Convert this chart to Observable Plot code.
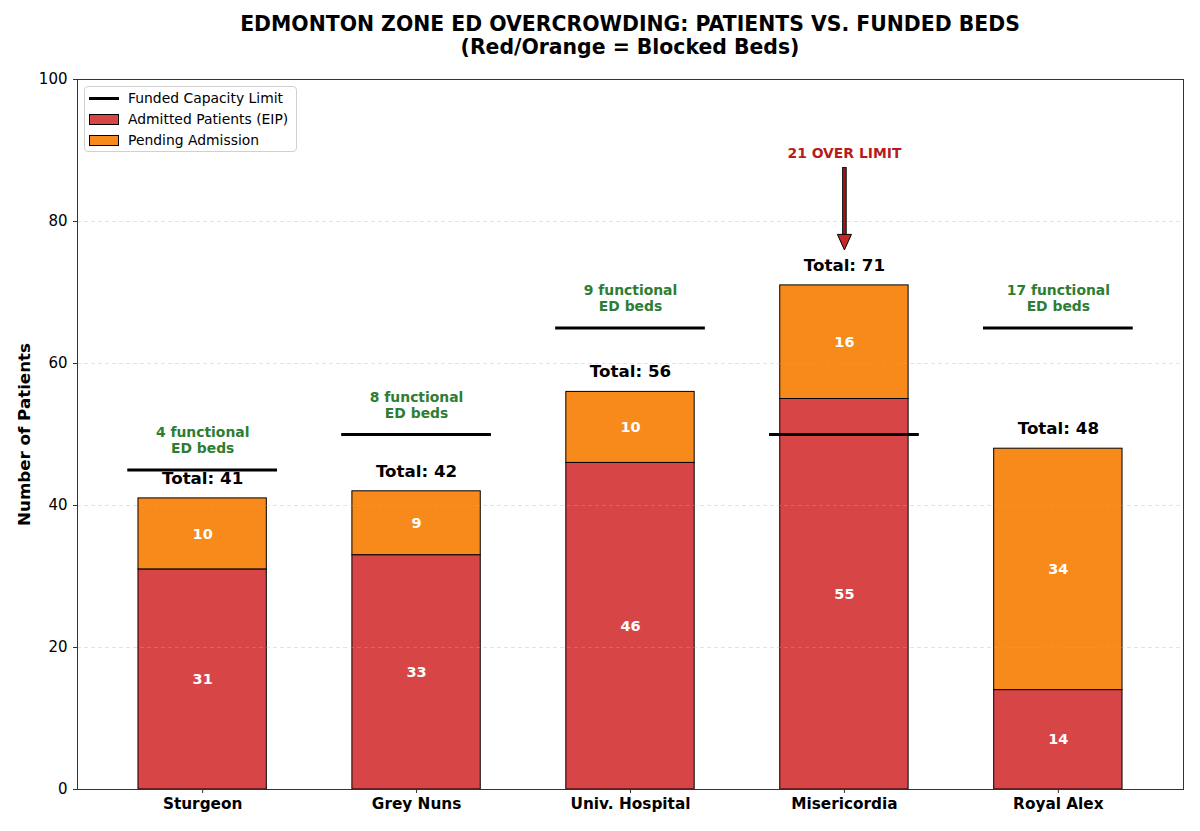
<!DOCTYPE html>
<html>
<head>
<meta charset="utf-8">
<script src="https://cdn.jsdelivr.net/npm/d3@7"></script>
<script src="https://cdn.jsdelivr.net/npm/@observablehq/plot@0.6"></script>
<style>
  html, body { margin: 0; padding: 0; background: #fff; }
  #wrap { position: relative; width: 1200px; height: 831px; font-family: "DejaVu Sans", sans-serif; }
  #title { position: absolute; left: 77px; top: 13px; width: 1106px; height: 48px; text-align: center;
           font-size: 20.4px; font-weight: bold; line-height: 23px; color: #000; }
  #chart { position: absolute; left: 0; top: 62px; }
  #legend { position: absolute; left: 84px; top: 86px; width: 211px; height: 64px;
            border: 1px solid #d0d0d0; border-radius: 4px; background: rgba(255,255,255,0.85);
            font-size: 13.9px; color: #000; }
  .row { position: absolute; left: 0; height: 21px; width: 100%; }
  .row .txt { position: absolute; left: 43px; top: 0; line-height: 21px; white-space: nowrap; }
  .row .line { position: absolute; left: 4px; top: 9px; width: 30px; height: 3px; background: #000; }
  .row .box { position: absolute; left: 4px; top: 5px; width: 28px; height: 9px; border: 1px solid #000; }
</style>
</head>
<body>
<div id="wrap">
  <div id="title">EDMONTON ZONE ED OVERCROWDING: PATIENTS VS. FUNDED BEDS<br>(Red/Orange = Blocked Beds)</div>
  <div id="chart"></div>
  <div id="legend"></div>
</div>
<script>
// ---- data ----
const hospitals = ["Sturgeon", "Grey Nuns", "Univ. Hospital", "Misericordia", "Royal Alex"];
const admitted = [31, 33, 46, 55, 14];      // Admitted Patients (EIP)
const pending = [10, 9, 10, 16, 34];        // Pending Admission
const fundedBeds = [45, 50, 65, 50, 65];    // Funded Capacity Limit
const yTicks = [0, 20, 40, 60, 80, 100];
const seriesNames = ["Funded Capacity Limit", "Admitted Patients (EIP)", "Pending Admission"];

const RED = "#d84546";
const ORANGE = "#f78a1b";
const GREEN = "#2e7d32";
const DARKRED = "#b71c1c";

const rows = hospitals.map((h, i) => ({
  i, h, eip: admitted[i], pend: pending[i],
  total: admitted[i] + pending[i], cap: fundedBeds[i]
}));
const under = rows.filter(d => d.cap > d.total);
const over = rows.filter(d => d.total > d.cap);

const downTriangle = {
  draw(context) {
    context.moveTo(0, 0);
    context.lineTo(-7, -15.5);
    context.lineTo(7, -15.5);
    context.closePath();
  }
};

const chart = Plot.plot({
  width: 1200,
  height: 769,
  marginLeft: 77,
  marginRight: 17,
  marginTop: 17,
  marginBottom: 42,
  style: { fontFamily: "DejaVu Sans, sans-serif", background: "transparent", overflow: "visible" },
  x: { type: "linear", domain: [-0.585, 4.585] },
  y: { domain: [0, 100] },
  marks: [
    Plot.rectY(rows, { x1: d => d.i - 0.3, x2: d => d.i + 0.3, y1: 0, y2: "eip", fill: RED, stroke: "#000", strokeWidth: 1 }),
    Plot.rectY(rows, { x1: d => d.i - 0.3, x2: d => d.i + 0.3, y1: "eip", y2: "total", fill: ORANGE, stroke: "#000", strokeWidth: 1 }),
    Plot.ruleY(yTicks.filter(t => t > 0 && t < 100), { stroke: "#b0b0b0", strokeOpacity: 0.45, strokeDasharray: "4,3", strokeWidth: 0.8 }),
    Plot.text(rows, { x: "i", y: d => d.eip / 2, text: d => String(d.eip), fill: "#fff", fontWeight: "bold", fontSize: 14.5 }),
    Plot.text(rows, { x: "i", y: d => d.eip + d.pend / 2, text: d => String(d.pend), fill: "#fff", fontWeight: "bold", fontSize: 14.5 }),
    Plot.ruleY(rows, { x1: d => d.i - 0.35, x2: d => d.i + 0.35, y: "cap", stroke: "#000", strokeWidth: 3.2 }),
    Plot.text(rows, { x: "i", y: d => d.total + 1, text: d => `Total: ${d.total}`, lineAnchor: "bottom", dy: -7.5, fontSize: 16.7, fontWeight: "bold", fill: "#000" }),
    Plot.text(under, { x: "i", y: d => d.cap + 2, text: d => `${d.cap - d.total} functional\nED beds`, lineAnchor: "bottom", lineHeight: 1.15, dy: -2.6, fontSize: 13.9, fontWeight: "bold", fill: GREEN }),
    Plot.text(over, { x: "i", y: d => d.total + 17, text: d => `${d.total - d.cap} OVER LIMIT`, lineAnchor: "bottom", dy: -6.5, fontSize: 13.9, fontWeight: "bold", fill: DARKRED }),
    Plot.ruleX(over, { x: "i", y1: d => d.total + 16.6, y2: d => d.total + 6.5, stroke: "#000", strokeWidth: 4.6 }),
    Plot.ruleX(over, { x: "i", y1: d => d.total + 16.5, y2: d => d.total + 6.5, stroke: "#9b1b1b", strokeWidth: 2.6 }),
    Plot.dot(over, { x: "i", y: d => d.total + 5, symbol: downTriangle, fill: "#c62828", stroke: "#000", strokeWidth: 1 }),
    Plot.frame({ stroke: "#333", strokeWidth: 1 }),
    Plot.axisY({ ticks: yTicks, tickSize: 4, tickPadding: 6, fontSize: 15, label: null, stroke: "#333", fill: "#000" }),
    Plot.axisX({ ticks: d3.range(hospitals.length), tickFormat: i => hospitals[i], tickSize: 4, tickPadding: 5, fontSize: 15.3, fontWeight: "bold", label: null, stroke: "#333", fill: "#000" }),
    Plot.text(["Number of Patients"], { frameAnchor: "left", dx: -53, rotate: -90, text: d => d, fontSize: 16.7, fontWeight: "bold", fill: "#000", textAnchor: "middle", lineAnchor: "middle" })
  ]
});
document.getElementById("chart").appendChild(chart);

// ---- legend ----
const legend = document.getElementById("legend");
const handles = [
  '<div class="line"></div>',
  `<div class="box" style="background:${RED}"></div>`,
  `<div class="box" style="background:${ORANGE}"></div>`
];
seriesNames.forEach((name, k) => {
  const r = document.createElement("div");
  r.className = "row";
  r.style.top = (1 + k * 21) + "px";
  r.innerHTML = handles[k] + `<span class="txt">${name}</span>`;
  legend.appendChild(r);
});
</script>
</body>
</html>
